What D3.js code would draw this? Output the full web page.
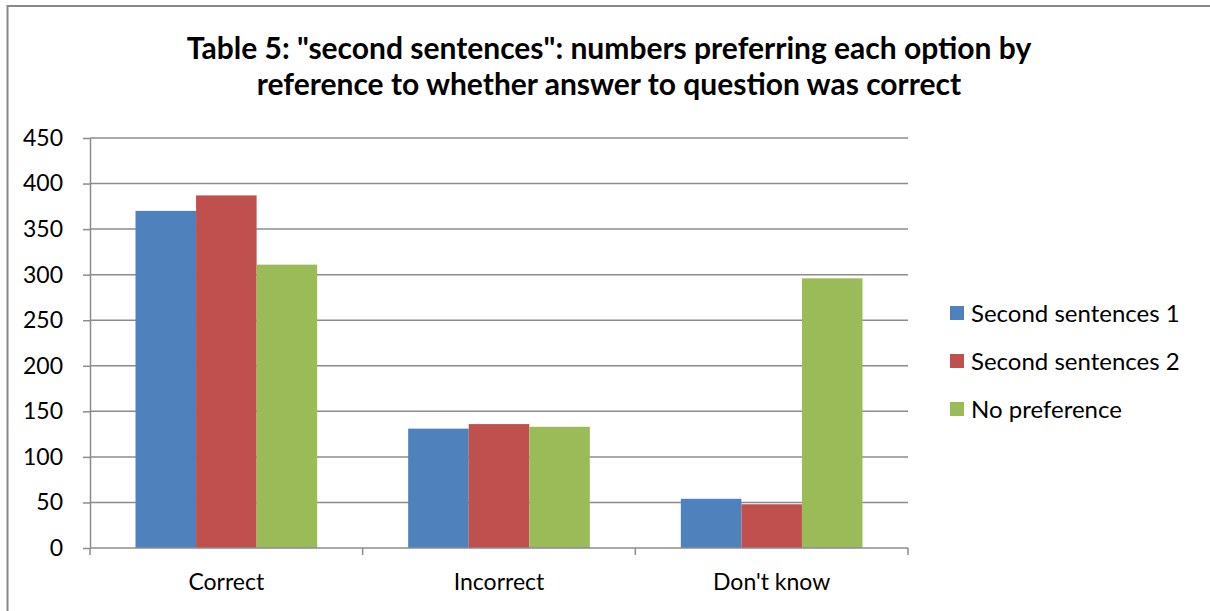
<!DOCTYPE html>
<html>
<head>
<meta charset="utf-8">
<style>
body { margin: 0; background: #fff; }
text { font-family: Lato, "Open Sans", sans-serif; fill: #000; }
.grid line { stroke: #8c8c8c; stroke-width: 1.5; }
.axis path, .axis line { stroke: #8c8c8c; stroke-width: 1.5; }
</style>
</head>
<body>
<svg width="1210" height="611"></svg>
<script src="https://d3js.org/d3.v7.min.js"></script>
<script>
// chart data
var categories = ["Correct", "Incorrect", "Don't know"];
var seriesNames = ["Second sentences 1", "Second sentences 2", "No preference"];
var s1 = [370, 131, 54];
var s2 = [387, 136, 48];
var s3 = [311, 133, 296];
var yTicks = [0, 50, 100, 150, 200, 250, 300, 350, 400, 450];
var titleLines = ['Table 5: "second sentences": numbers preferring each option by',
                  'reference to whether answer to question was correct'];
var colors = ["#4f81bd", "#c0504d", "#9bbb59"];

var svg = d3.select("svg");
// plot box (don't call it "top", window.top is taken)
var pLeft = 90, pRight = 908, pTop = 138, pBottom = 548;

// outer frame
svg.append("rect")
  .attr("x", 7.5).attr("y", 6)
  .attr("width", 1260).attr("height", 700)
  .attr("fill", "none").attr("stroke", "#888").attr("stroke-width", 2);

// title
svg.append("g").selectAll("text")
  .data(titleLines)
  .enter().append("text")
    .attr("x", 609)
    .attr("y", function(d, i) { return 59 + i * 36; })
    .attr("text-anchor", "middle")
    .style("font-size", "30px")
    .style("font-weight", "bold")
    .text(function(d) { return d; });

var x0 = d3.scaleBand().domain(categories).range([pLeft, pRight]);
var gap = 45.5;
var x1 = d3.scaleBand().domain(seriesNames).range([gap, x0.bandwidth() - gap]);
var y = d3.scaleLinear().domain([0, 450]).range([pBottom, pTop]);

// gridlines
svg.append("g").attr("class", "grid")
  .selectAll("line")
  .data(yTicks.slice(1))
  .enter().append("line")
    .attr("x1", pLeft).attr("x2", pRight)
    .attr("y1", function(d) { return y(d); })
    .attr("y2", function(d) { return y(d); });

// bars
var rows = categories.map(function(c, i) {
  return [s1[i], s2[i], s3[i]].map(function(v, j) {
    return { cat: c, name: seriesNames[j], value: v, color: colors[j] };
  });
});

svg.append("g").selectAll("g")
  .data(rows)
  .enter().append("g")
    .attr("transform", function(d) { return "translate(" + x0(d[0].cat) + ",0)"; })
  .selectAll("rect")
  .data(function(d) { return d; })
  .enter().append("rect")
    .attr("x", function(d) { return x1(d.name); })
    .attr("width", x1.bandwidth())
    .attr("y", function(d) { return y(d.value); })
    .attr("height", function(d) { return pBottom - y(d.value); })
    .attr("fill", function(d) { return d.color; });

// y axis
var yAxis = svg.append("g").attr("class", "axis")
  .attr("transform", "translate(" + pLeft + ",0)")
  .call(d3.axisLeft(y).tickValues(yTicks).tickSize(7).tickPadding(20).tickSizeOuter(0));
yAxis.selectAll("text").style("font-size", "23px");

// x axis with ticks at category boundaries
var xg = svg.append("g").attr("class", "axis");
xg.append("line")
  .attr("x1", pLeft).attr("x2", pRight)
  .attr("y1", pBottom).attr("y2", pBottom);
var bounds = categories.map(function(c) { return x0(c); }).concat([pRight]);
xg.selectAll(".tk")
  .data(bounds)
  .enter().append("line")
    .attr("class", "tk")
    .attr("x1", function(d) { return d; }).attr("x2", function(d) { return d; })
    .attr("y1", pBottom).attr("y2", pBottom + 7);
xg.selectAll("text")
  .data(categories)
  .enter().append("text")
    .attr("x", function(d) { return x0(d) + x0.bandwidth() / 2; })
    .attr("y", 590)
    .attr("text-anchor", "middle")
    .style("font-size", "23px")
    .text(function(d) { return d; });

// legend
var legend = svg.append("g").selectAll("g")
  .data(seriesNames)
  .enter().append("g")
    .attr("transform", function(d, i) { return "translate(950," + (306 + i * 48) + ")"; });
legend.append("rect")
  .attr("width", 14).attr("height", 14)
  .attr("fill", function(d, i) { return colors[i]; });
legend.append("text")
  .attr("x", 21).attr("y", 16)
  .style("font-size", "24px")
  .text(function(d) { return d; });
</script>
</body>
</html>
